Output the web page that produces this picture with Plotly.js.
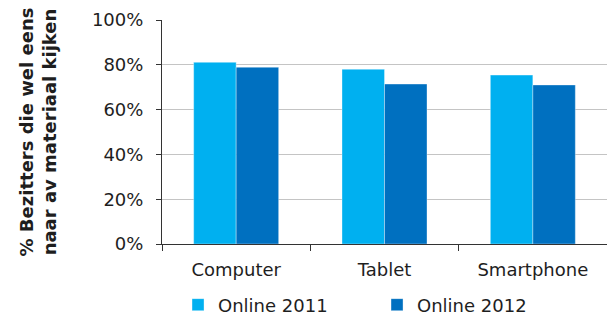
<!DOCTYPE html>
<html>
<head>
<meta charset="utf-8">
<script src="https://cdn.plot.ly/plotly-3.0.1.min.js"></script>
<style>
  html, body { margin: 0; padding: 0; background: #fff; }
  #chart { width: 607px; height: 315px; }
</style>
</head>
<body>
<div id="chart"></div>
<script>
const categories = ['Computer', 'Tablet', 'Smartphone'];
const online2011 = [81.1, 78.0, 75.4];
const online2012 = [78.9, 71.4, 71.0];
const seriesNames = ['Online 2011', 'Online 2012'];
const yTickValues = [0, 20, 40, 60, 80, 100];
const yTickLabels = yTickValues.map(v => v + '%');
const yTitleLines = ['% Bezitters die wel eens', 'naar av materiaal kijken'];

const font = 'DejaVu Sans, Verdana, sans-serif';
const textColor = '#1e1e1e';

const traces = [
  {
    type: 'bar', x: categories, y: online2011, name: seriesNames[0],
    marker: { color: '#00B0F0', line: { color: 'rgba(255,255,255,0.35)', width: 1 } },
    hoverinfo: 'skip'
  },
  {
    type: 'bar', x: categories, y: online2012, name: seriesNames[1],
    marker: { color: '#0070C0', line: { color: 'rgba(255,255,255,0.35)', width: 1 } },
    hoverinfo: 'skip'
  }
];

const layout = {
  width: 607, height: 315,
  margin: { l: 162, r: 0, t: 20, b: 71, pad: 0, autoexpand: false },
  paper_bgcolor: '#ffffff', plot_bgcolor: '#ffffff',
  font: { family: font, size: 18, color: textColor },
  barmode: 'group', bargap: 0.427, bargroupgap: 0,
  showlegend: true,
  legend: {
    orientation: 'h', x: 0.036, xanchor: 'left', y: -0.272, yanchor: 'middle',
    entrywidth: 154, font: { family: font, size: 18, color: textColor },
    itemclick: false, itemdoubleclick: false
  },
  xaxis: {
    type: 'category', tickson: 'boundaries', ticks: 'outside', ticklen: 6, tickwidth: 1, tickcolor: '#333',
    showline: true, linecolor: '#333', linewidth: 1, showgrid: false, zeroline: false,
    ticklabelstandoff: 9,
    tickfont: { family: font, size: 18, color: textColor }, fixedrange: true, automargin: false
  },
  xaxis2: {
    type: 'linear', overlaying: 'x', anchor: 'y', side: 'bottom',
    range: [-0.5, categories.length - 0.5], tickmode: 'linear', tick0: 0, dtick: 1,
    ticks: 'outside', ticklen: 6, tickwidth: 1, tickcolor: '#333',
    showticklabels: false, showgrid: false, showline: false, zeroline: false, fixedrange: true,
    automargin: false
  },
  yaxis: {
    range: [0, 100], tickmode: 'array', tickvals: yTickValues, ticktext: yTickLabels,
    ticks: 'outside', ticklen: 5, tickwidth: 1, tickcolor: '#333', ticklabelstandoff: 9,
    showline: true, linecolor: '#333', linewidth: 1,
    showgrid: true, gridcolor: '#c4c4c4', gridwidth: 1, zeroline: false,
    tickfont: { family: font, size: 18, color: textColor }, fixedrange: true,
    title: {
      text: '<b>' + yTitleLines.join('<br>') + '</b>',
      font: { family: font, size: 18, color: textColor }, standoff: 30
    },
    automargin: false
  }
};

Plotly.newPlot('chart', traces, layout, { staticPlot: true, displayModeBar: false });
</script>
</body>
</html>
